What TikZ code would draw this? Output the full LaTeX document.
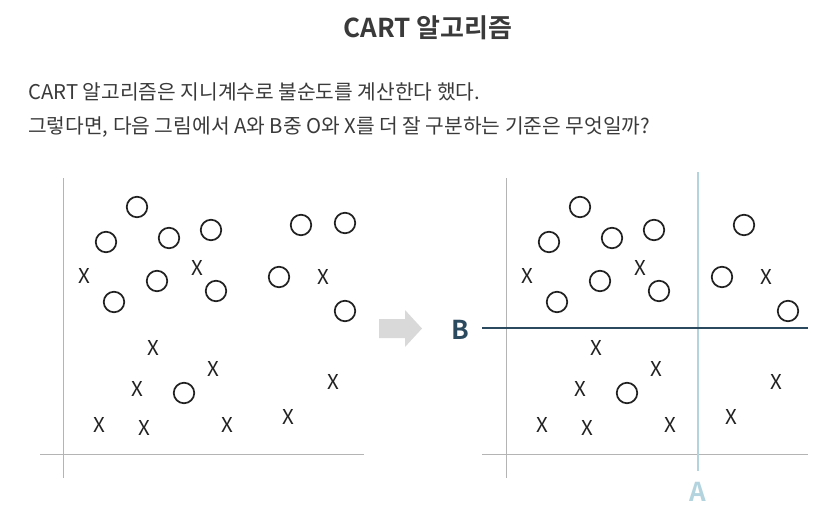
\documentclass[tikz,border=0pt]{standalone}
\usepackage{fontspec}
\setmainfont{Noto Sans CJK KR}
\newfontfamily\boldkr{Noto Sans CJK KR Bold}
\definecolor{ink}{HTML}{222222}
\definecolor{txt}{HTML}{3A3A3A}
\definecolor{axisgray}{HTML}{B4B4B4}
\definecolor{arrowgray}{HTML}{D9D9D9}
\definecolor{lineA}{HTML}{B3D4DE}
\definecolor{lineB}{HTML}{2B4A60}
\begin{document}
\begin{tikzpicture}[x=1pt,y=-1pt,
  opt/.style={circle, draw=ink, line width=1.7pt, minimum size=20.5pt, inner sep=0pt},
  xmark/.style={font=\fontsize{20.5}{20.5}\selectfont, text=ink, inner sep=0pt},
  axisline/.style={draw=axisgray, line width=1pt},
  body/.style={font=\fontsize{20.3}{24}\selectfont, text=txt, anchor=west, inner sep=0pt},
]
\useasboundingbox (0,0) rectangle (835,517);
% title and text
\node[font=\boldkr\fontsize{26}{30}\selectfont, text=txt, inner sep=0pt] (title) at (428,28) {CART 알고리즘};
\node[body] (line1) at (28,92) {CART 알고리즘은 지니계수로 불순도를 계산한다 했다.};
\node[body] (line2) at (28,127) {그렇다면, 다음 그림에서 A와 B중 O와 X를 더 잘 구분하는 기준은 무엇일까?};
% left plot axes
\coordinate (lyt) at (63.5,178);
\coordinate (lyb) at (63.5,478);
\coordinate (lxl) at (40,454);
\coordinate (lxr) at (364,454);
\draw[axisline] (lyt) -- (lyb);
\draw[axisline] (lxl) -- (lxr);
% left points
\foreach \px/\py [count=\i] in {137/207,106/242,169/238,211/230,301/225,345/223,157/281,114/302,216/291,279/277,345/311,184/393}
  \node[opt] (lo\i) at (\px,\py) {};
\foreach \px/\py [count=\i] in {84/276,197/268,323/277,153/348,213/369,137/389,333/382,99/425,144/428,227/425,288/417}
  \node[xmark] (lx\i) at (\px,\py) {X};
% arrow
\fill[arrowgray] (379,319) -- (405,319) -- (405,310) -- (422,328.5) -- (405,347) -- (405,338) -- (379,338) -- cycle;
% right plot axes
\coordinate (ryt) at (506.5,178);
\coordinate (ryb) at (506.5,478);
\coordinate (rxl) at (482,454);
\coordinate (rxr) at (808,454);
\draw[axisline] (ryt) -- (ryb);
\draw[axisline] (rxl) -- (rxr);
% right points
\foreach \px/\py [count=\i] in {137/207,106/242,169/238,211/230,301/225,157/281,114/302,216/291,279/277,345/311,184/393}
  \node[opt] (ro\i) at (\px+443,\py) {};
\foreach \px/\py [count=\i] in {84/276,197/268,323/277,153/348,213/369,137/389,333/382,99/425,144/428,227/425,288/417}
  \node[xmark] (rx\i) at (\px+443,\py) {X};
% split lines
\coordinate (at) at (698,172);
\coordinate (ab) at (698,471);
\coordinate (bl) at (482,328);
\coordinate (br) at (808,328);
\draw[lineA, line width=2.5pt] (at) -- (ab);
\draw[lineB, line width=2.5pt] (bl) -- (br);
\node[font=\boldkr\fontsize{26}{26}\selectfont, text=lineB, inner sep=0pt] (labB) at (460,330) {B};
\node[font=\boldkr\fontsize{26}{26}\selectfont, text=lineA, inner sep=0pt] (labA) at (698,492) {A};
\end{tikzpicture}
\end{document}
